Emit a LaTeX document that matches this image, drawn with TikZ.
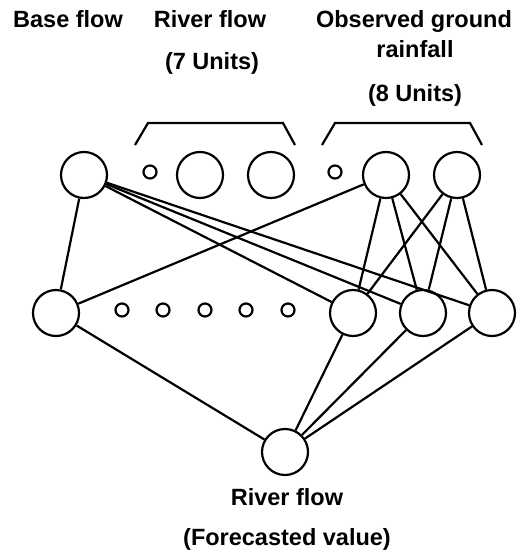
\documentclass[tikz,border=0pt]{standalone}
\usepackage{fontspec}
\setmainfont{Liberation Sans}
\begin{document}
\begin{tikzpicture}[x=1pt,y=-1pt,
  big/.style={circle,draw,line width=2.2pt,minimum size=46pt,inner sep=0pt},
  small/.style={circle,draw,line width=2.2pt,minimum size=13pt,inner sep=0pt},
  lbl/.style={font=\fontsize{23.5}{27}\selectfont\bfseries,inner sep=0pt,anchor=base},
  conn/.style={line width=2.2pt},
  brk/.style={line width=2.2pt,line join=miter}]
\useasboundingbox (0,0) rectangle (522,551);
% labels
\node[lbl] (tbase) at (68,28) {Base flow};
\node[lbl] (triver) at (210,28) {River flow};
\node[lbl] (tunits7) at (212,70) {(7 Units)};
\node[lbl] (tobs) at (414,28) {Observed ground};
\node[lbl] (train) at (415,58) {rainfall};
\node[lbl] (tunits8) at (415,101) {(8 Units)};
\node[lbl] (tout) at (287,505) {River flow};
\node[lbl] (tfore) at (287,545) {(Forecasted value)};
% brackets
\coordinate (b1a) at (135,145); \coordinate (b1b) at (148,123);
\coordinate (b1c) at (283,123); \coordinate (b1d) at (295,145);
\coordinate (b2a) at (322,145); \coordinate (b2b) at (335,123);
\coordinate (b2c) at (470,123); \coordinate (b2d) at (482,145);
\draw[brk] (b1a) -- (b1b) -- (b1c) -- (b1d);
\draw[brk] (b2a) -- (b2b) -- (b2c) -- (b2d);
% top row
\node[big] (t0) at (84,175) {};
\node[small] (ts1) at (150,172) {};
\node[big] (t2) at (200,175) {};
\node[big] (t3) at (271,175) {};
\node[small] (ts2) at (335,172) {};
\node[big] (t4) at (386,175) {};
\node[big] (t5) at (457,175) {};
% middle row
\node[big] (m0) at (56,313) {};
\node[small] (ms1) at (122,310) {};
\node[small] (ms2) at (163,310) {};
\node[small] (ms3) at (205,310) {};
\node[small] (ms4) at (246,310) {};
\node[small] (ms5) at (288,310) {};
\node[big] (ma) at (353,313) {};
\node[big] (mb) at (423,313) {};
\node[big] (mc) at (492,313) {};
% output
\node[big] (out) at (285,452) {};
% connections
\draw[conn] (t0) -- (m0);
\draw[conn] (t0) -- (ma);
\draw[conn] (t0) -- (mb);
\draw[conn] (t0) -- (mc);
\draw[conn] (t4) -- (m0);
\draw[conn] (t4) -- (ma);
\draw[conn] (t4) -- (mb);
\draw[conn] (t4) -- (mc);
\draw[conn] (t5) -- (ma);
\draw[conn] (t5) -- (mb);
\draw[conn] (t5) -- (mc);
\draw[conn] (m0) -- (out);
\draw[conn] (ma) -- (out);
\draw[conn] (mb) -- (out);
\draw[conn] (mc) -- (out);
\end{tikzpicture}
\end{document}
